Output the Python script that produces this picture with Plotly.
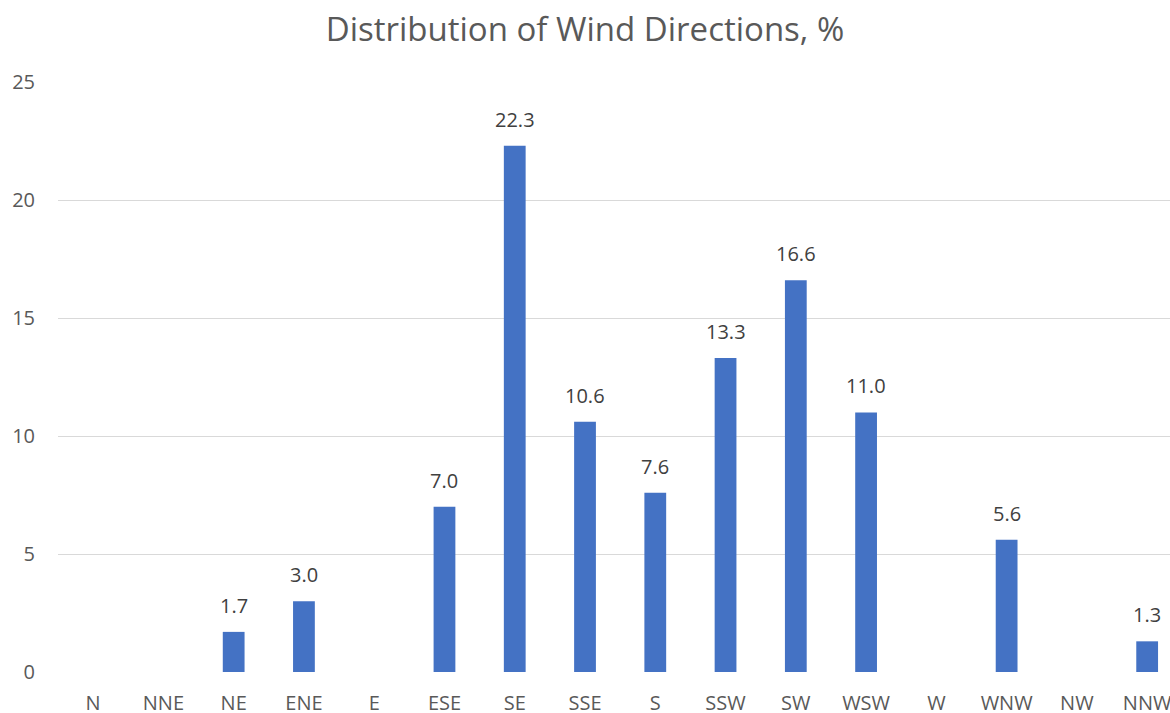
import plotly.graph_objects as go

directions = ["N", "NNE", "NE", "ENE", "E", "ESE", "SE", "SSE", "S", "SSW",
              "SW", "WSW", "W", "WNW", "NW", "NNW"]
percent = [0, 0, 1.7, 3.0, 0, 7.0, 22.3, 10.6, 7.6, 13.3, 16.6, 11.0, 0, 5.6, 0, 1.3]
y_ticks = [0, 5, 10, 15, 20, 25]

FONT = "Open Sans"
fig = go.Figure()
fig.add_trace(go.Bar(
    x=directions, y=percent, marker=dict(color="#4472C4", line=dict(width=0)),
    hoverinfo="x+y",
))

for d, v in zip(directions, percent):
    if v > 0:
        fig.add_annotation(x=d, y=v, text=f"{v:.1f}", showarrow=False,
                           yanchor="bottom", yshift=11,
                           font=dict(family=FONT, size=20, color="#404040"))

fig.update_layout(
    width=1170, height=713,
    margin=dict(l=58, r=0, t=82, b=41, autoexpand=False),
    paper_bgcolor="white", plot_bgcolor="white",
    bargap=0.69, showlegend=False,
    title=dict(text="Distribution of Wind Directions, %", x=0.5, xanchor="center",
               y=0.958, yanchor="middle",
               font=dict(family=FONT, size=33, color="#595959")),
    xaxis=dict(type="category", range=[-0.5, 15.325], showgrid=False, zeroline=False,
               showline=False, ticks="", automargin=False,
               tickfont=dict(family=FONT, size=20, color="#595959"),
               ticklabelstandoff=17),
    yaxis=dict(range=[0, 25], tickvals=y_ticks, showgrid=True, gridcolor="#D9D9D9",
               gridwidth=1, zeroline=False, showline=False, ticks="", automargin=False,
               tickfont=dict(family=FONT, size=20, color="#595959"),
               ticklabelstandoff=22),
)

fig.write_html("out.html")
